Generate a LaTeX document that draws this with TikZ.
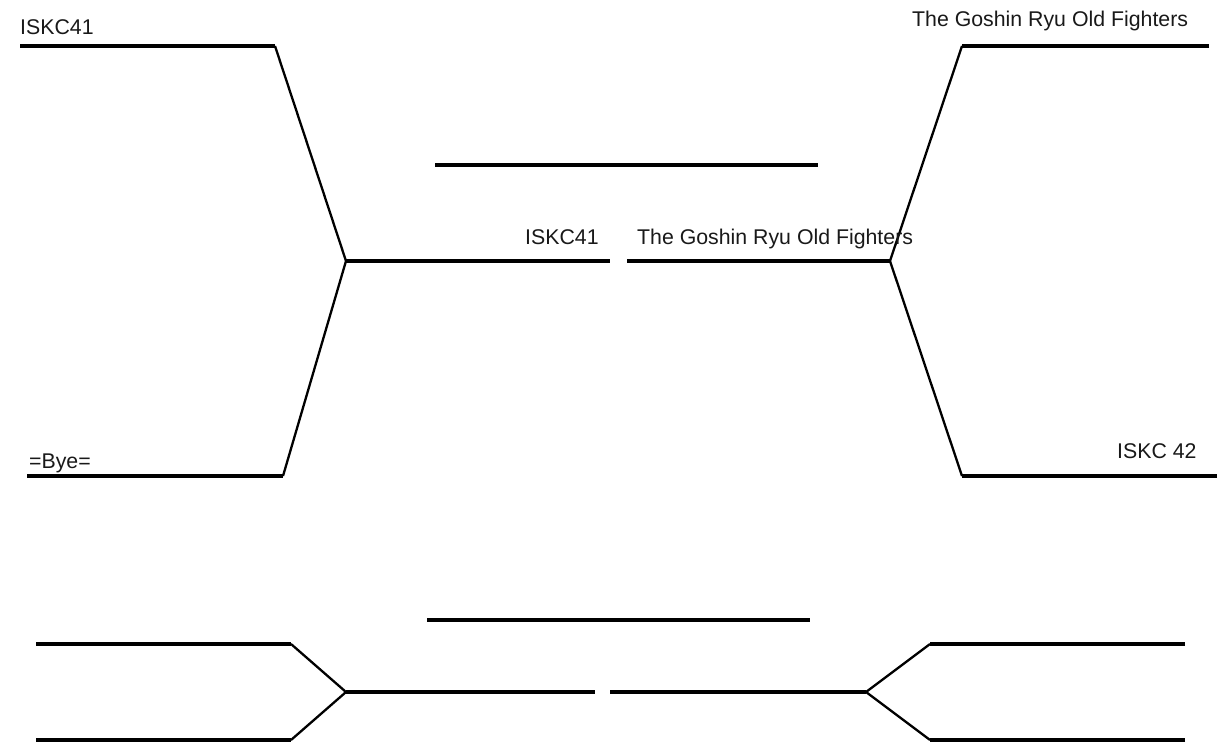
\documentclass[tikz,border=0pt]{standalone}
\usepackage{fontspec}
\setmainfont{Liberation Sans}
\begin{document}
\begin{tikzpicture}[x=1pt,y=-1pt,
  hline/.style={line width=3.2pt,black},
  dline/.style={line width=2.3pt,black},
  lbl/.style={inner sep=0pt,anchor=base west,font=\fontsize{21.3}{25}\selectfont,text=black!90}]
\useasboundingbox (0,0) rectangle (1225,752);
% coordinates
\coordinate (a1) at (20,46); \coordinate (a2) at (275,46);
\coordinate (a3) at (346,261); \coordinate (a4) at (610,261);
\coordinate (b1) at (27,476); \coordinate (b2) at (283,476);
\coordinate (c1) at (1209,46); \coordinate (c2) at (962,46);
\coordinate (c3) at (890,261); \coordinate (c4) at (627,261);
\coordinate (d1) at (1217,476); \coordinate (d2) at (962,476);
\coordinate (m1) at (435,165); \coordinate (m2) at (818,165);
\coordinate (n1) at (427,620); \coordinate (n2) at (810,620);
\coordinate (e1) at (36,644); \coordinate (e2) at (291,644);
\coordinate (e3) at (346,692); \coordinate (e4) at (595,692);
\coordinate (f1) at (36,740); \coordinate (f2) at (291,740);
\coordinate (g1) at (1185,644); \coordinate (g2) at (930,644);
\coordinate (g3) at (866,692); \coordinate (g4) at (610,692);
\coordinate (h1) at (1185,740); \coordinate (h2) at (930,740);
% horizontal lines
\draw[hline] (a1) -- (a2);
\draw[hline] (a3) -- (a4);
\draw[hline] (b1) -- (b2);
\draw[hline] (c1) -- (c2);
\draw[hline] (c3) -- (c4);
\draw[hline] (d1) -- (d2);
\draw[hline] (m1) -- (m2);
\draw[hline] (n1) -- (n2);
\draw[hline] (e1) -- (e2);
\draw[hline] (e3) -- (e4);
\draw[hline] (f1) -- (f2);
\draw[hline] (g1) -- (g2);
\draw[hline] (g3) -- (g4);
\draw[hline] (h1) -- (h2);
% diagonals
\draw[dline] (a2) -- (a3);
\draw[dline] (b2) -- (a3);
\draw[dline] (c2) -- (c3);
\draw[dline] (d2) -- (c3);
\draw[dline] (e2) -- (e3);
\draw[dline] (f2) -- (e3);
\draw[dline] (g2) -- (g3);
\draw[dline] (h2) -- (g3);
% labels
\node[lbl] (t1) at (20,35) {ISKC41};
\node[lbl] (t2) at (912,27) {The Goshin Ryu Old Fighters};
\node[lbl] (t3) at (525,244) {ISKC41};
\node[lbl] (t4) at (637,244) {The Goshin Ryu Old Fighters};
\node[lbl] (t5) at (29,468) {=Bye=};
\node[lbl] (t6) at (1117,458) {ISKC 42};
\end{tikzpicture}
\end{document}
